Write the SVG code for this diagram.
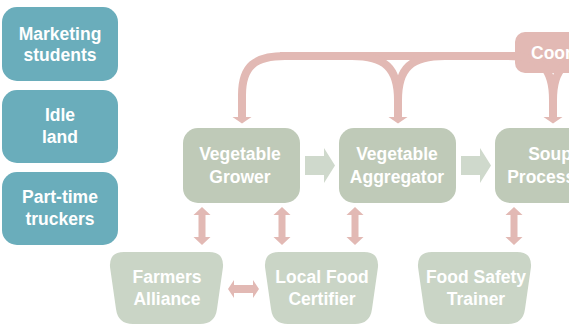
<svg xmlns="http://www.w3.org/2000/svg" xmlns:xlink="http://www.w3.org/1999/xlink" width="569" height="325" viewBox="0 0 569 325">
<style>
.t{font-family:"Liberation Sans",Arial,sans-serif;font-weight:bold;font-size:17.5px;fill:#fff;text-anchor:middle}
.teal{fill:#6aadbb}
.grn{fill:#bfcab8}
.lgrn{fill:#cad5c6}
.pink{fill:#e2b9b4}
.band{fill:none;stroke:#e2b9b4;stroke-width:8}
.chev{fill:#cfd9cc}
</style>
<defs>
<path id="trap" d="M15,0 H100 Q115,0 114,15 L108,57 Q106,72 91,72 H24 Q9,72 7,57 L1,15 Q0,0 15,0 Z"/>
<path id="vdbl" d="M0,0 L8.5,8 L3.5,8 L3.5,30 L8.5,30 L0,38 L-8.5,30 L-3.5,30 L-3.5,8 L-8.5,8 Z"/>
<path id="chevron" d="M0,8 H19 V0 L30,17.5 L19,35 V27 H0 Z"/>
<marker id="ah" markerUnits="userSpaceOnUse" viewBox="0 -10 7 20" markerWidth="7" markerHeight="20" refX="0" refY="0" orient="auto" overflow="visible">
<path d="M0,-9.5 L6.5,0 L0,9.5 Z" fill="#e2b9b4"/>
</marker>
</defs>

<g id="marketing-students">
<rect class="teal" x="2" y="7" width="116" height="74" rx="15"/>
<text class="t" x="60" y="40">Marketing</text>
<text class="t" x="60" y="61">students</text>
</g>
<g id="idle-land">
<rect class="teal" x="2" y="90" width="116" height="73" rx="15"/>
<text class="t" x="60" y="121">Idle</text>
<text class="t" x="60" y="143">land</text>
</g>
<g id="part-time-truckers">
<rect class="teal" x="2" y="172" width="116" height="73" rx="15"/>
<text class="t" x="60" y="203">Part-time</text>
<text class="t" x="60" y="225">truckers</text>
</g>

<g id="coordinator">
<rect class="pink" x="515" y="32" width="110" height="41" rx="10"/>
</g>

<g id="connectors">
<path class="band" d="M280,56 H569"/>
<path class="band" d="M285,56 C255,56 242,66 242,95 L242,117" marker-end="url(#ah)"/>
<path class="band" d="M352,56 C385,56 398,68 398,100 L398,117" marker-end="url(#ah)"/>
<path class="band" d="M445,56 C411,56 398,68 398,100"/>
<path class="band" d="M508,56 C541,56 553,68 553,100 L553,117" marker-end="url(#ah)"/>
<path class="band" d="M600,56 C566,56 553,68 553,100"/>
<use href="#chevron" class="chev" x="305" y="148"/>
<use href="#chevron" class="chev" x="461" y="148"/>
<use href="#vdbl" class="pink" x="202" y="207"/>
<use href="#vdbl" class="pink" x="282" y="207"/>
<use href="#vdbl" class="pink" x="355" y="207"/>
<use href="#vdbl" class="pink" x="514" y="207"/>
<path class="pink" d="M228,289 L234,280 L234,285 L253,285 L253,280 L259,289 L253,298 L253,293 L234,293 L234,298 Z"/>
</g>

<g id="coordinator-label">
<text class="t" x="531" y="59" style="text-anchor:start">Coordinator</text>
</g>

<g id="vegetable-grower">
<rect class="grn" x="183" y="128" width="117" height="75" rx="15"/>
<text class="t" x="240" y="160">Vegetable</text>
<text class="t" x="240" y="183">Grower</text>
</g>
<g id="vegetable-aggregator">
<rect class="grn" x="339" y="128" width="117" height="75" rx="15"/>
<text class="t" x="397" y="160">Vegetable</text>
<text class="t" x="397" y="183">Aggregator</text>
</g>
<g id="soup-processor">
<rect class="grn" x="495" y="128" width="117" height="75" rx="15"/>
<text class="t" x="550" y="160">Soup</text>
<text class="t" x="550" y="183">Processor</text>
</g>

<g id="farmers-alliance">
<use href="#trap" class="lgrn" x="109" y="252"/>
<text class="t" x="167" y="283">Farmers</text>
<text class="t" x="167" y="305">Alliance</text>
</g>
<g id="local-food-certifier">
<use href="#trap" class="lgrn" x="264" y="252"/>
<text class="t" x="322" y="283">Local Food</text>
<text class="t" x="322" y="305">Certifier</text>
</g>
<g id="food-safety-trainer">
<use href="#trap" class="lgrn" x="417" y="252"/>
<text class="t" x="476" y="283">Food Safety</text>
<text class="t" x="476" y="305">Trainer</text>
</g>
</svg>
